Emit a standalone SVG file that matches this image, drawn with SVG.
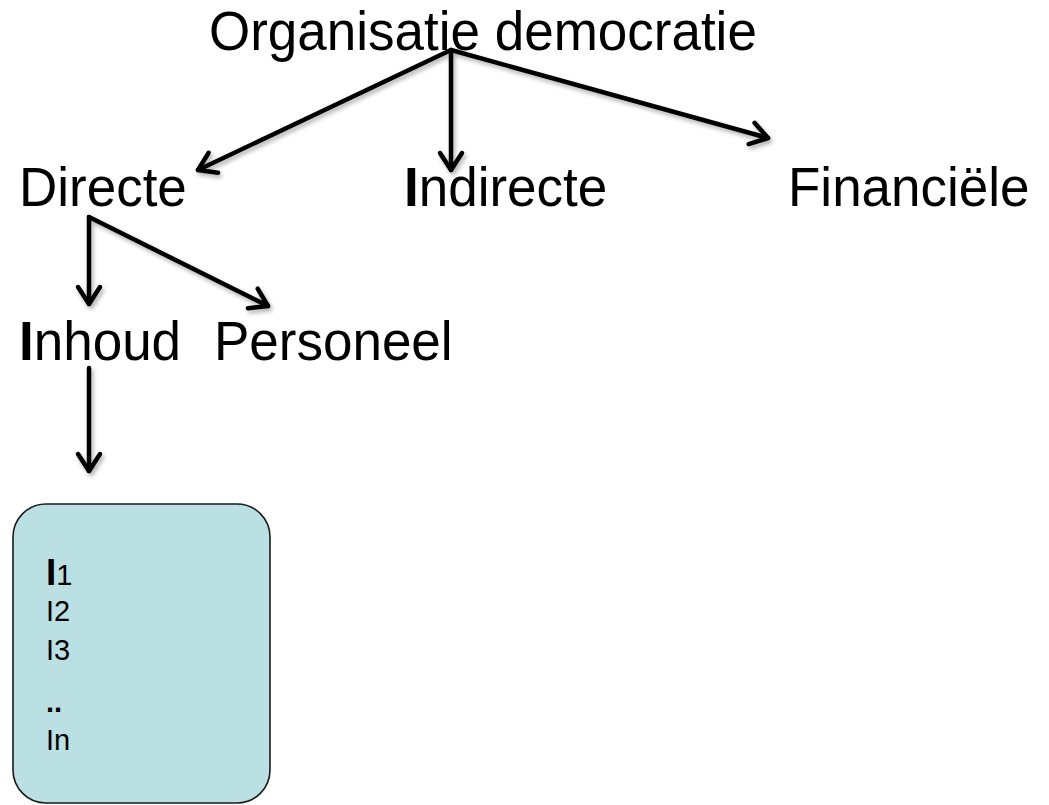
<svg xmlns="http://www.w3.org/2000/svg" width="1049" height="805" viewBox="0 0 1049 805">
  <defs>
    <style>
      .lbl { font-family: "Liberation Sans", Arial, sans-serif; font-size: 53px; fill: #000; }
      .item { font-family: "Liberation Sans", Arial, sans-serif; font-size: 29px; fill: #000; }
      .conn { stroke: #000; stroke-width: 4.5; fill: none; stroke-linecap: round; stroke-linejoin: round; }
      .box { fill: #bbe0e3; stroke: #1a1a1a; stroke-width: 1.6; }
    </style>
    <filter id="shadow" x="-20%" y="-20%" width="140%" height="140%">
      <feDropShadow dx="2" dy="3" stdDeviation="2" flood-color="#000" flood-opacity="0.3"/>
    </filter>
    <marker id="chev" markerUnits="userSpaceOnUse" markerWidth="44" markerHeight="44" refX="0" refY="0" viewBox="-22 -22 44 44" orient="auto">
      <path d="M -17 -11 L 0 0 L -17 11" fill="none" stroke="#000" stroke-width="4.5" stroke-linecap="round" stroke-linejoin="round"/>
    </marker>
  </defs>

  <g id="connectors" filter="url(#shadow)">
    <line class="conn" x1="451" y1="50" x2="198" y2="170" marker-end="url(#chev)"/>
    <line class="conn" x1="451" y1="50" x2="451" y2="170" marker-end="url(#chev)"/>
    <line class="conn" x1="451" y1="50" x2="768" y2="138" marker-end="url(#chev)"/>
    <line class="conn" x1="89" y1="217" x2="89" y2="304" marker-end="url(#chev)"/>
    <line class="conn" x1="89" y1="217" x2="268" y2="306" marker-end="url(#chev)"/>
    <line class="conn" x1="89" y1="368" x2="89" y2="471" marker-end="url(#chev)"/>
  </g>

  <g id="node-organisatie">
    <text class="lbl" x="209" y="50" transform="translate(0 50) scale(1 1.04) translate(0 -50)">Organisatie democratie</text>
  </g>
  <g id="node-directe">
    <text class="lbl" x="19" y="206" transform="translate(0 206) scale(1 1.04) translate(0 -206)">Directe</text>
  </g>
  <g id="node-indirecte">
    <text class="lbl" x="404" y="206" transform="translate(0 206) scale(1 1.04) translate(0 -206)"><tspan font-weight="bold">I</tspan>ndirecte</text>
  </g>
  <g id="node-financiele">
    <text class="lbl" x="788" y="206" transform="translate(0 206) scale(1 1.04) translate(0 -206)">Financiële</text>
  </g>
  <g id="node-inhoud">
    <text class="lbl" x="19" y="360" transform="translate(0 360) scale(1 1.04) translate(0 -360)"><tspan font-weight="bold">I</tspan>nhoud</text>
  </g>
  <g id="node-personeel">
    <text class="lbl" x="214" y="360" transform="translate(0 360) scale(1 1.04) translate(0 -360)">Personeel</text>
  </g>
  <g id="node-items">
    <rect class="box" x="13" y="504" width="257" height="299" rx="33" ry="33"/>
    <text class="item" x="46" y="585"><tspan font-size="37" font-weight="bold">I</tspan>1</text>
    <text class="item" x="46" y="621">I2</text>
    <text class="item" x="46" y="660">I3</text>
    <text class="item" x="46" y="712" font-weight="bold">..</text>
    <text class="item" x="46" y="750">In</text>
  </g>
</svg>
